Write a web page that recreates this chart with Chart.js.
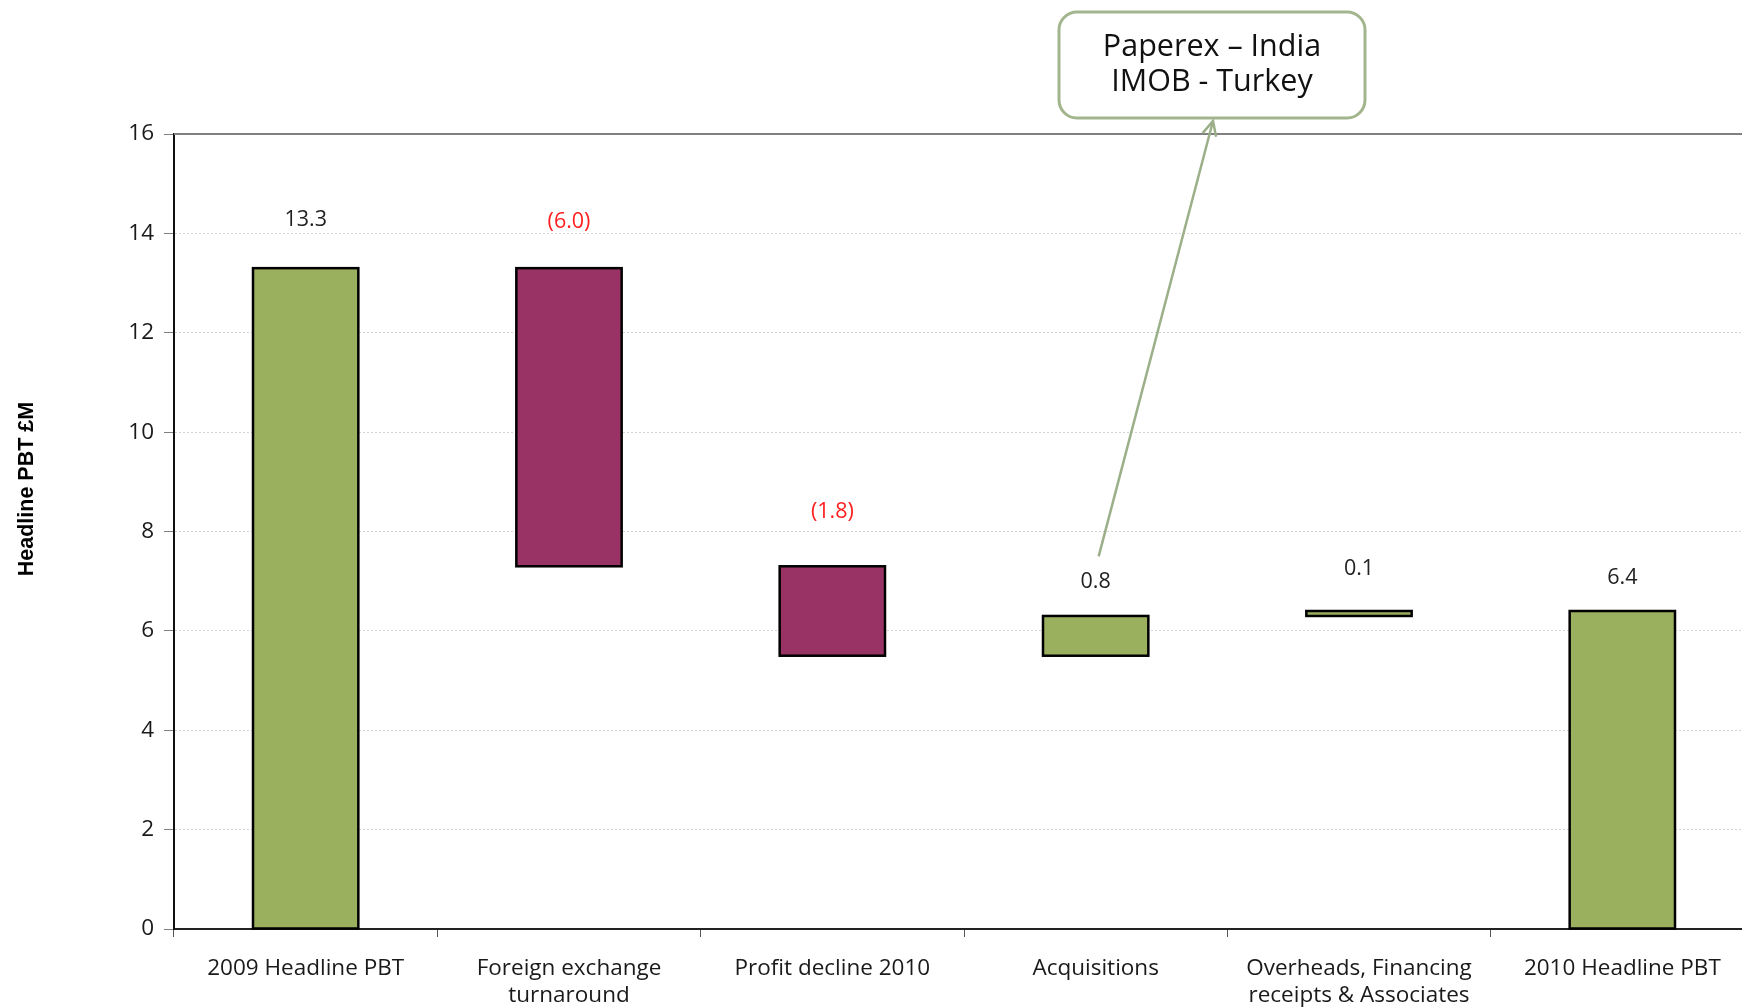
<!DOCTYPE html>
<html>
<head>
<meta charset="utf-8">
<script src="https://cdn.jsdelivr.net/npm/chart.js@4/dist/chart.umd.min.js"></script>
<style>
  html, body { margin: 0; padding: 0; background: #fff; overflow: hidden; }
  #wrap { position: absolute; left: 0; top: 0; width: 1760px; height: 1008px; }
</style>
</head>
<body>
<div id="wrap"><canvas id="pbtChart" width="1760" height="1008"></canvas></div>
<script>
// data
const categories = [
    '2009 Headline PBT',
    ['Foreign exchange', 'turnaround'],
    'Profit decline 2010',
    'Acquisitions',
    ['Overheads, Financing', 'receipts & Associates'],
    '2010 Headline PBT'
];
const changes = [13.3, -6.0, -1.8, 0.8, 0.1, 6.4];
const isTotal = [true, false, false, false, false, true];
const yTicks = [0, 2, 4, 6, 8, 10, 12, 14, 16];

// bauen die schwebenden Balken aus den Änderungen
let running = 0;
const ranges = changes.map((v, i) => {
    if (isTotal[i]) { running = v; return [0, v]; }
    const start = running;
    running = running + v;
    return [start, running];
});

const GREEN = '#9BB05E';
const MAROON = '#993366';
const labelLift = [48, 46, 54, 34, 42, 33]; // Abstand Label über Balken (px)

const fmt = v => v < 0 ? '(' + Math.abs(v).toFixed(1) + ')' : v.toFixed(1);

const extras = {
    id: 'extras',
    afterDatasetsDraw(chart) {
        const ctx = chart.ctx;
        const area = chart.chartArea;
        const meta = chart.getDatasetMeta(0);
        const y = chart.scales.y;
        const x = chart.scales.x;

        ctx.save();
        // Rahmen mittig auf der Kante, wie in Excel
        ctx.strokeStyle = '#000';
        ctx.lineWidth = 2.5;
        meta.data.forEach(bar => {
            const top = Math.min(bar.y, bar.base);
            const h = Math.abs(bar.base - bar.y);
            ctx.strokeRect(bar.x - bar.width / 2, top, bar.width, h);
        });

        // obere Linie bei 16
        ctx.strokeStyle = '#808080';
        ctx.lineWidth = 2;
        ctx.beginPath();
        ctx.moveTo(area.left, y.getPixelForValue(16));
        ctx.lineTo(area.right + 10, y.getPixelForValue(16));
        ctx.stroke();

        // Werte über den Balken
        ctx.font = '21.5px "Open Sans"';
        ctx.textAlign = 'center';
        ctx.textBaseline = 'middle';
        meta.data.forEach((bar, i) => {
            const top = Math.min(bar.y, bar.base);
            ctx.fillStyle = changes[i] < 0 ? '#FF2020' : '#222';
            ctx.fillText(fmt(changes[i]), bar.x, top - labelLift[i]);
        });

        // Achsentitel
        ctx.save();
        ctx.translate(27, 489);
        ctx.rotate(-Math.PI / 2);
        ctx.font = 'bold 21.5px "Liberation Sans"';
        ctx.fillStyle = '#000';
        ctx.fillText('Headline PBT £M', 0, 0);
        ctx.restore();

        // Callout-Box mit Pfeil
        const boxL = 1059, boxT = 12, boxW = 306, boxH = 106, r = 18;
        ctx.strokeStyle = '#A2B58D';
        ctx.lineWidth = 3;
        ctx.beginPath();
        ctx.roundRect(boxL, boxT, boxW, boxH, r);
        ctx.fillStyle = '#fff';
        ctx.fill();
        ctx.stroke();
        ctx.fillStyle = '#111';
        ctx.font = '30.5px "Open Sans"';
        ctx.fillText('Paperex \u2013 India', boxL + boxW / 2, 47);
        ctx.fillText('IMOB - Turkey', boxL + boxW / 2, 82);

        const sx = x.getPixelForValue(3) + 3;
        const sy = y.getPixelForValue(7.5);
        const tx = boxL + boxW / 2 + 1, ty = boxT + boxH + 3;
        ctx.strokeStyle = '#9BAF88';
        ctx.lineWidth = 2.5;
        ctx.beginPath();
        ctx.moveTo(sx, sy);
        ctx.lineTo(tx, ty);
        ctx.stroke();
        const ang = Math.atan2(ty - sy, tx - sx);
        const hl = 16;
        ctx.beginPath();
        ctx.moveTo(tx - hl * Math.cos(ang - 0.45), ty - hl * Math.sin(ang - 0.45));
        ctx.lineTo(tx, ty);
        ctx.lineTo(tx - hl * Math.cos(ang + 0.45), ty - hl * Math.sin(ang + 0.45));
        ctx.stroke();
        ctx.restore();
    }
};

function criarGrafico() {
    const ctx = document.getElementById('pbtChart').getContext('2d');
    new Chart(ctx, {
        type: 'bar',
        data: {
            labels: categories,
            datasets: [{
                data: ranges,
                backgroundColor: changes.map(v => v < 0 ? MAROON : GREEN),
                borderWidth: 0,
                categoryPercentage: 1,
                barPercentage: 0.4
            }]
        },
        options: {
            responsive: false,
            animation: false,
            maintainAspectRatio: false,
            layout: { padding: { top: 134, right: 6, left: 0, bottom: 0 } },
            plugins: {
                legend: { display: false },
                tooltip: { enabled: false }
            },
            scales: {
                x: {
                    offset: true,
                    grid: {
                        offset: true,
                        drawOnChartArea: false,
                        drawTicks: true,
                        tickLength: 8,
                        tickColor: '#555'
                    },
                    border: { color: '#222', width: 2 },
                    ticks: {
                        color: '#1a1a1a',
                        font: { family: 'Open Sans', size: 22.5, lineHeight: 1.2 },
                        padding: 18,
                        maxRotation: 0,
                        autoSkip: false
                    },
                    afterFit(scale) { scale.height = 79; }
                },
                y: {
                    min: 0,
                    max: 16,
                    afterBuildTicks(scale) { scale.ticks = yTicks.map(v => ({ value: v })); },
                    grid: {
                        color: ctx => ctx.tick && ctx.tick.value === 0 ? 'rgba(0,0,0,0)' : '#d4d4d4',
                        lineWidth: 1,
                        tickLength: 10,
                        tickColor: '#808080'
                    },
                    border: { color: '#111', width: 2, dash: [2, 2] },
                    ticks: {
                        color: '#1a1a1a',
                        font: { family: 'Open Sans', size: 22.5 },
                        padding: 10
                    },
                    afterFit(scale) { scale.width = 174; }
                }
            }
        },
        plugins: [extras]
    });
}

document.addEventListener('DOMContentLoaded', criarGrafico);
</script>
</body>
</html>
